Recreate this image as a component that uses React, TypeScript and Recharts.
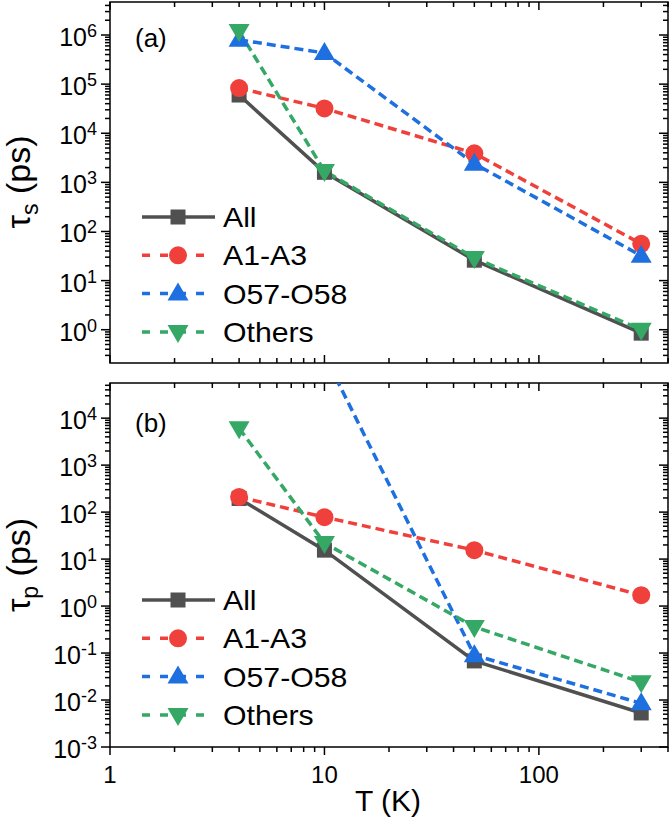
import React from 'react';
import { LineChart, Line, XAxis, YAxis, ReferenceArea, Legend } from 'recharts';

const temps = [4, 10, 50, 300];

// panel (a): tau_s in ps
const tauSAll = [6.0e4, 1.6e3, 26, 0.85];
const tauSA1A3 = [8.3e4, 3.2e4, 3.9e3, 56];
const tauSO57O58 = [8.0e5, 4.3e5, 2.4e3, 32];
const tauSOthers = [1.2e6, 1.7e3, 29, 1.0];

// panel (b): tau_p in ps
const tauPAll = [195, 15.5, 0.068, 0.0053];
const tauPA1A3 = [210, 78, 15.5, 1.7];
const tauPO57O58 = [3.0e6, 2.2e5, 0.09, 0.0085];
const tauPOthers = [6.1e3, 22, 0.36, 0.024];

const xMajor = [1, 10, 100];
const yMajorS = [1, 10, 1e2, 1e3, 1e4, 1e5, 1e6];
const yMajorP = [1e-3, 1e-2, 1e-1, 1, 10, 1e2, 1e3, 1e4];

const X_DOMAIN: [number, number] = [1, 400];
const S_DOMAIN: [number, number] = [0.21, 4.7e6];
const P_DOMAIN: [number, number] = [1e-3, 5.6e4];

const FONT = '"Liberation Sans", Arial, sans-serif';
const PLOT_W = 558;

const SERIES = [
  { key: 'all', name: 'All', color: '#505050', shape: 'square', dashed: false },
  { key: 'a1', name: 'A1-A3', color: '#F0403C', shape: 'circle', dashed: true },
  { key: 'o57', name: 'O57-O58', color: '#1E6FE0', shape: 'up', dashed: true },
  { key: 'others', name: 'Others', color: '#35A866', shape: 'down', dashed: true },
];

const buildRows = (all: number[], a1: number[], o57: number[], others: number[]) =>
  temps.map((T, i) => ({ T, all: all[i], a1: a1[i], o57: o57[i], others: others[i] }));

const dataS = buildRows(tauSAll, tauSA1A3, tauSO57O58, tauSOthers);
const dataP = buildRows(tauPAll, tauPA1A3, tauPO57O58, tauPOthers);

// majors plus 2..9 minors in each decade, kept inside the domain
function withMinor(majors: number[], [lo, hi]: [number, number]) {
  const out: number[] = [];
  const decades = [majors[0] / 10, ...majors];
  decades.forEach((m) => {
    for (let k = 1; k <= 9; k++) {
      const v = m * k;
      if (v >= lo * 0.999 && v <= hi * 1.001) out.push(v);
    }
  });
  return out;
}

const xTicks = withMinor(xMajor, X_DOMAIN);
const sTicks = withMinor(yMajorS, S_DOMAIN);
const pTicks = withMinor(yMajorP, P_DOMAIN);

function Marker({ shape, cx, cy, color }: any) {
  if (cx == null || cy == null) return null;
  if (shape === 'square') return <rect x={cx - 7.5} y={cy - 7.5} width={15} height={15} fill={color} />;
  if (shape === 'circle') return <circle cx={cx} cy={cy} r={9} fill={color} />;
  if (shape === 'up')
    return <polygon points={`${cx},${cy - 11} ${cx - 10.5},${cy + 7} ${cx + 10.5},${cy + 7}`} fill={color} />;
  return <polygon points={`${cx},${cy + 11} ${cx - 10.5},${cy - 7} ${cx + 10.5},${cy - 7}`} fill={color} />;
}

function YTick({ x, y, payload, majors }: any) {
  const v = payload.value;
  const major = majors.some((m: number) => Math.abs(m - v) < m * 1e-6);
  const len = major ? 9 : 5;
  const exp = Math.round(Math.log10(v));
  return (
    <g>
      <line x1={x - len} x2={x} y1={y} y2={y} stroke="#000" strokeWidth={1.5} />
      <line x1={x + PLOT_W - len} x2={x + PLOT_W} y1={y} y2={y} stroke="#000" strokeWidth={1.5} />
      {major && (
        <text x={x - 13} y={y + 11} textAnchor="end" fontSize={25} fontFamily={FONT} fill="#000">
          10<tspan dy={-9} fontSize={18}>{exp}</tspan>
        </text>
      )}
    </g>
  );
}

function XTick({ x, y, payload, outward, plotH, labels }: any) {
  const v = payload.value;
  const major = xMajor.includes(v);
  const len = major ? 8 : 5;
  return (
    <g>
      <line x1={x} x2={x} y1={y} y2={outward ? y + len : y - len} stroke="#000" strokeWidth={1.5} />
      <line x1={x} x2={x} y1={y - plotH} y2={y - plotH + len} stroke="#000" strokeWidth={1.5} />
      {labels && major && (
        <text x={x} y={y + 36} textAnchor="middle" fontSize={24} fontFamily={FONT} fill="#000">
          {v}
        </text>
      )}
    </g>
  );
}

function LegendBox() {
  return (
    <svg width={240} height={150} style={{ display: 'block' }}>
      {SERIES.map((s, i) => {
        const cy = 17 + i * 38.3;
        return (
          <g key={s.key}>
            <line
              x1={12} x2={s.dashed ? 77 : 85} y1={cy} y2={cy}
              stroke={s.color} strokeWidth={3.5}
              strokeDasharray={s.dashed ? '8 10' : undefined}
            />
            <Marker shape={s.shape} cx={48} cy={cy} color={s.color} />
            <text
              transform={`translate(93, ${cy + 10}) scale(1.08, 1)`}
              fontSize={28} fontFamily={FONT} fill="#000"
            >
              {s.name}
            </text>
          </g>
        );
      })}
    </svg>
  );
}

function Panel({ data, domain, ticks, majors, height, margin, xHeight, plotH, outward, labels, tag, sub, tagY, titleY, legendTop }: any) {
  return (
    <LineChart width={670} height={height} data={data} margin={margin}>
      <XAxis
        dataKey="T" type="number" scale="log" domain={X_DOMAIN} allowDataOverflow
        ticks={xTicks} interval={0} tickLine={false} axisLine={false} tickSize={0} tickMargin={0}
        height={xHeight}
        tick={(p: any) => <XTick {...p} outward={outward} plotH={plotH} labels={labels} />}
      />
      <YAxis
        type="number" scale="log" domain={domain} allowDataOverflow
        ticks={ticks} interval={0} tickLine={false} axisLine={false} tickSize={0} tickMargin={0}
        width={110}
        tick={(p: any) => <YTick {...p} majors={majors} />}
      />
      <ReferenceArea
        x1={X_DOMAIN[0]} x2={X_DOMAIN[1]} y1={domain[0]} y2={domain[1]}
        fill="none" fillOpacity={0} stroke="#000" strokeWidth={1.5} ifOverflow="visible"
      />
      {SERIES.map((s) => (
        <Line
          key={s.key} dataKey={s.key} stroke={s.color}
          strokeWidth={3.5} strokeDasharray={s.dashed ? '9 5' : undefined}
          isAnimationActive={false}
          dot={(p: any) => <Marker key={`${s.key}-${p.index}`} shape={s.shape} cx={p.cx} cy={p.cy} color={s.color} />}
          activeDot={false}
        />
      ))}
      <Legend
        layout="vertical" align="center" verticalAlign="middle"
        content={<LegendBox />}
        wrapperStyle={{ left: 130, top: legendTop, width: 240, height: 150 }}
      />
      <text x={135} y={tagY} fontSize={26} fontFamily={FONT} fill="#000">{tag}</text>
      <text transform={`translate(30, ${titleY}) rotate(-90)`} textAnchor="middle" fontSize={34} fontFamily={FONT} fill="#000">
        τ<tspan dy={8} fontSize={23}>{sub}</tspan><tspan dy={-8}> (ps)</tspan>
      </text>
    </LineChart>
  );
}

export default function App() {
  return (
    <div style={{ position: 'absolute', left: 0, top: 0, width: 670, height: 827, background: '#fff' }}>
      <div style={{ position: 'absolute', left: 0, top: 0 }}>
        <Panel
          data={dataS} domain={S_DOMAIN} ticks={sTicks} majors={yMajorS}
          height={373} margin={{ top: 2, right: 2, bottom: 0, left: 0 }} xHeight={10}
          plotH={361} outward={false} labels={false}
          tag="(a)" sub="s" tagY={47} titleY={182} legendTop={200}
        />
      </div>
      <div style={{ position: 'absolute', left: 0, top: 373 }}>
        <Panel
          data={dataP} domain={P_DOMAIN} ticks={pTicks} majors={yMajorP}
          height={454} margin={{ top: 10, right: 2, bottom: 0, left: 0 }} xHeight={80}
          plotH={364} outward labels
          tag="(b)" sub="p" tagY={59} titleY={192} legendTop={210}
        />
        <div style={{ position: 'absolute', left: 355, top: 413, fontFamily: FONT, fontSize: 30, lineHeight: '30px', whiteSpace: 'nowrap' }}>
          T (K)
        </div>
      </div>
    </div>
  );
}
